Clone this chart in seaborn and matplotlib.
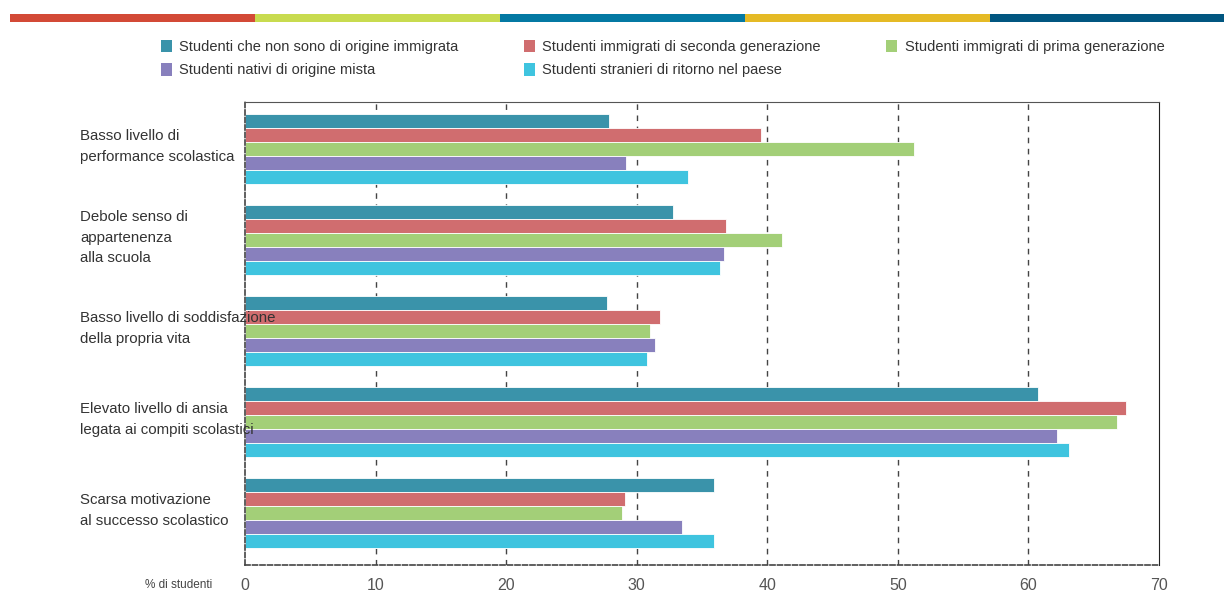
import numpy as np
import pandas as pd
import matplotlib
matplotlib.use("Agg")
import matplotlib.pyplot as plt
import matplotlib.transforms as mtransforms
from matplotlib.patches import Rectangle, Patch
import seaborn as sns

# ===== DATI =====
categories = [
    "Basso livello di\nperformance scolastica",
    "Debole senso di\nappartenenza\nalla scuola",
    "Basso livello di soddisfazione\ndella propria vita",
    "Elevato livello di ansia\nlegata ai compiti scolastici",
    "Scarsa motivazione\nal successo scolastico",
]
groups = [
    "Studenti che non sono di origine immigrata",
    "Studenti immigrati di seconda generazione",
    "Studenti immigrati di prima generazione",
    "Studenti nativi di origine mista",
    "Studenti stranieri di ritorno nel paese",
]
non_immigrati = [27.9, 32.8, 27.7, 60.7, 35.9]
seconda_gen = [39.5, 36.8, 31.8, 67.5, 29.1]
prima_gen = [51.2, 41.1, 31.0, 66.8, 28.9]
origine_mista = [29.2, 36.7, 31.4, 62.2, 33.5]
di_ritorno = [33.9, 36.4, 30.8, 63.1, 35.9]
xticks = [0, 10, 20, 30, 40, 50, 60, 70]

palette = ["#3A93AA", "#D06D6F", "#A3CF78", "#8880BD", "#3FC4DF"]
stripe_colors = ["#D34A36", "#C8DB4F", "#0479A3", "#E5BA25", "#015680"]

df = pd.DataFrame({
    "categoria": np.repeat(categories, 5),
    "gruppo": groups * len(categories),
    "valore": np.column_stack([non_immigrati, seconda_gen, prima_gen,
                               origine_mista, di_ritorno]).ravel(),
})

# ===== GRAFICO =====
sns.set_style("white")
plt.rcParams["font.family"] = ["Liberation Sans", "DejaVu Sans"]

fig = plt.figure(figsize=(12.24, 5.92), dpi=100)
ax = fig.add_axes([245 / 1224, 1 - 565 / 592, 914 / 1224, 463 / 592])

sns.barplot(data=df, x="valore", y="categoria", hue="gruppo", order=categories,
            hue_order=groups, palette=palette, orient="h", width=0.77,
            edgecolor="white", linewidth=0.6, saturation=1, ax=ax)
ax.get_legend().remove()

ax.set_xlim(0, 70)
ax.set_ylim(4.57, -0.52)
ax.set_xticks(xticks)
ax.set_xticklabels([str(t) for t in xticks], fontsize=11.5, color="#555555")
ax.tick_params(axis="x", length=0, pad=9)
ax.set_yticks([])
ax.set_xlabel("")
ax.set_ylabel("")

for t in xticks[1:-1]:
    ax.axvline(t, color="#444444", linestyle=(0, (4, 4)), linewidth=1, zorder=0)

for side in ["left", "bottom"]:
    ax.spines[side].set_linestyle((0, (3, 1.5)))
    ax.spines[side].set_color("#444444")
    ax.spines[side].set_linewidth(1.2)
ax.spines["top"].set_color("#555555")
ax.spines["right"].set_color("#222222")

# etichette delle categorie
trans = mtransforms.blended_transform_factory(fig.transFigure, ax.transData)
for i, cat in enumerate(categories):
    ax.text(80 / 1224, i - 0.03, cat, transform=trans, ha="left", va="center",
            fontsize=10.8, color="#333333", linespacing=1.6, clip_on=False)

fig.text(145 / 1224, 1 - 585 / 592, "% di studenti", fontsize=8.5,
         color="#444444", ha="left", va="center")

# striscia colorata in alto
edges = [10, 255, 500, 745, 990, 1224]
for c, x0, x1 in zip(stripe_colors, edges[:-1], edges[1:]):
    fig.add_artist(Rectangle((x0 / 1224, 1 - 22 / 592), (x1 - x0) / 1224, 8 / 592,
                             transform=fig.transFigure, color=c, lw=0))

# legenda
order = [0, 3, 1, 4, 2]
handles = [Patch(facecolor=palette[k], edgecolor="none") for k in order]
labels = [groups[k] for k in order]
fig.legend(handles, labels, loc="upper left", bbox_to_anchor=(155 / 1224, 1 - 34 / 592),
           ncol=3, frameon=False, fontsize=10.5, handlelength=0.75, handleheight=0.9,
           handletextpad=0.5, columnspacing=4.5, labelspacing=0.65, borderaxespad=0,
           labelcolor="#333333")

fig.savefig("out.png", dpi=100)
